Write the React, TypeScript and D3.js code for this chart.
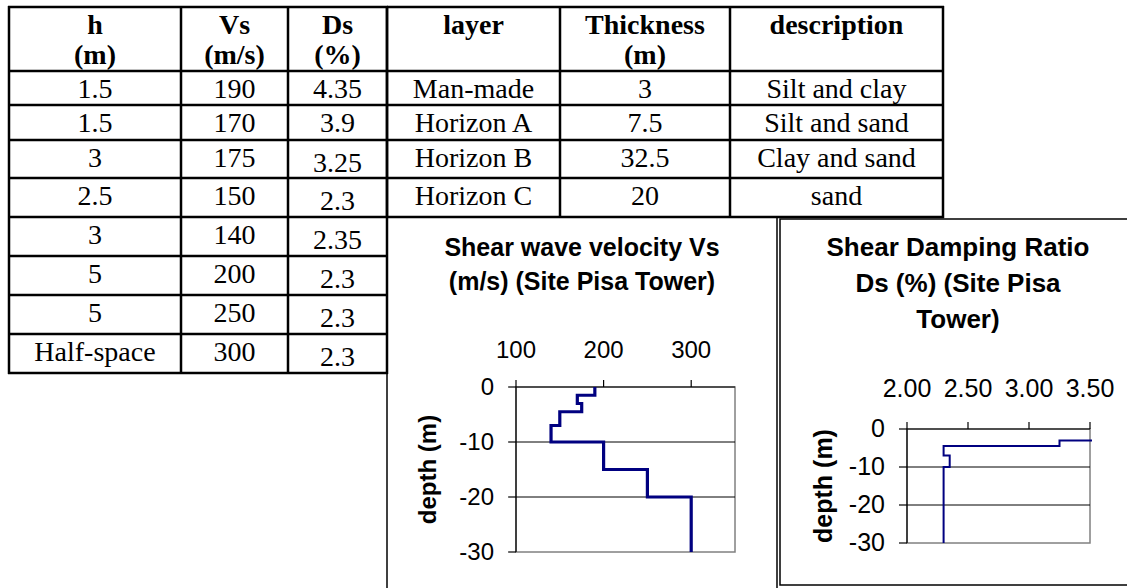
import React from 'react';
import * as d3 from 'd3';

// Soil profile table (left block)
const hLabels = ['1.5', '1.5', '3', '2.5', '3', '5', '5', 'Half-space'];
const vsValues = [190, 170, 175, 150, 140, 200, 250, 300];
const dsValues = [4.35, 3.9, 3.25, 2.3, 2.35, 2.3, 2.3, 2.3];

// Geological layers table (right block)
const layerNames = ['Man-made', 'Horizon A', 'Horizon B', 'Horizon C'];
const layerThickness = ['3', '7.5', '32.5', '20'];
const layerDescriptions = ['Silt and clay', 'Silt and sand', 'Clay and sand', 'sand'];

// Depth (m) of the bottom of each profile layer as plotted
const layerBottoms = [1.5, 3, 4.5, 7, 10, 15, 20, 30];

// Axis ticks
const vsTicks = [100, 200, 300];
const dsTicks = [2.0, 2.5, 3.0, 3.5];
const depthTicks = [0, -10, -20, -30];

const SERIF = '"Liberation Serif", "Times New Roman", serif';
const SANS = '"Liberation Sans", Arial, sans-serif';

// table geometry
const rowEdges = [7, 71, 105, 140, 178, 217, 256, 295, 334, 373];
const leftCols = [9, 181, 288, 387];
const rightCols = [387, 560, 730, 943];
const TABLE_FONT = 28;

function stepPoints(values: number[]): [number, number][] {
  const pts: [number, number][] = [];
  let top = 0;
  values.forEach((v, i) => {
    pts.push([v, -top]);
    pts.push([v, -layerBottoms[i]]);
    top = layerBottoms[i];
  });
  return pts;
}

function Table() {
  const lines: React.ReactNode[] = [];
  const texts: React.ReactNode[] = [];
  const nRows = hLabels.length;
  // left block
  const leftBottom = rowEdges[nRows + 1];
  rowEdges.forEach((y, i) => {
    lines.push(<line key={'lr' + i} x1={leftCols[0] - 1} x2={leftCols[3] + 1} y1={y} y2={y} />);
  });
  leftCols.forEach((x, i) => {
    lines.push(<line key={'lc' + i} x1={x} x2={x} y1={rowEdges[0] - 1} y2={leftBottom + 1} />);
  });
  // right block
  const rightBottom = rowEdges[layerNames.length + 1];
  rowEdges.slice(0, layerNames.length + 2).forEach((y, i) => {
    lines.push(<line key={'rr' + i} x1={rightCols[0]} x2={rightCols[3] + 1} y1={y} y2={y} />);
  });
  rightCols.forEach((x, i) => {
    lines.push(<line key={'rc' + i} x1={x} x2={x} y1={rowEdges[0] - 1} y2={rightBottom + 1} />);
  });

  const headers: [string[], number, number][] = [
    [['h', '(m)'], leftCols[0], leftCols[1]],
    [['Vs', '(m/s)'], leftCols[1], leftCols[2]],
    [['Ds', '(%)'], leftCols[2], leftCols[3]],
    [['layer'], rightCols[0], rightCols[1]],
    [['Thickness', '(m)'], rightCols[1], rightCols[2]],
    [['description'], rightCols[2], rightCols[3]],
  ];
  headers.forEach(([lbl, x0, x1], i) => {
    lbl.forEach((t, j) => {
      texts.push(
        <text key={'h' + i + j} x={(x0 + x1) / 2} y={rowEdges[0] + 27 + j * 30} textAnchor="middle" fontWeight="bold">
          {t}
        </text>
      );
    });
  });

  const cell = (key: string, t: string, x0: number, x1: number, r: number, dy = 0) => (
    <text key={key} x={(x0 + x1) / 2} y={rowEdges[r + 1] + 27 + dy} textAnchor="middle">
      {t}
    </text>
  );
  hLabels.forEach((t, r) => texts.push(cell('a' + r, t, leftCols[0], leftCols[1], r)));
  vsValues.forEach((v, r) => texts.push(cell('b' + r, String(v), leftCols[1], leftCols[2], r)));
  dsValues.forEach((v, r) => texts.push(cell('c' + r, String(v), leftCols[2], leftCols[3], r, r >= 2 ? 5 : 0)));
  layerNames.forEach((t, r) => texts.push(cell('d' + r, t, rightCols[0], rightCols[1], r)));
  layerThickness.forEach((t, r) => texts.push(cell('e' + r, t, rightCols[1], rightCols[2], r)));
  layerDescriptions.forEach((t, r) => texts.push(cell('f' + r, t, rightCols[2], rightCols[3], r)));

  return (
    <g>
      <g stroke="#000" strokeWidth={2.5}>{lines}</g>
      <g fontFamily={SERIF} fontSize={TABLE_FONT} fill="#000">{texts}</g>
    </g>
  );
}

type ProfileProps = {
  id: string;
  title: string[];
  titleCx: number;
  titleY: number;
  titleStep: number;
  titleSize: number;
  labelSize: number;
  values: number[];
  xDomain: [number, number];
  xRange: [number, number];
  yRange: [number, number];
  xTicks: number[];
  xFormat: (v: number) => string;
  xLabelY: number;
  ylabelX: number;
  lineWidth: number;
};

function Profile(p: ProfileProps) {
  const x = d3.scaleLinear().domain(p.xDomain).range(p.xRange);
  const y = d3.scaleLinear().domain([0, -30]).range(p.yRange);
  const [x0, x1] = p.xRange;
  const [y0, y1] = p.yRange;
  const line = d3
    .line<[number, number]>()
    .x((d) => x(d[0]))
    .y((d) => y(d[1]));
  const path = line(stepPoints(p.values)) || '';
  const clipId = 'clip-' + p.id;
  return (
    <g>
      <defs>
        <clipPath id={clipId}>
          <rect x={x0 - 2} y={y0 - 2} width={x1 - x0 + 4} height={y1 - y0 + 4} />
        </clipPath>
      </defs>
      {/* title */}
      <g fontFamily={SANS} fontWeight="bold" fontSize={p.titleSize} textAnchor="middle" fill="#000">
        {p.title.map((t, i) => (
          <text key={i} x={p.titleCx} y={p.titleY + i * p.titleStep}>
            {t}
          </text>
        ))}
      </g>
      {/* plot area */}
      <rect x={x0} y={y0} width={x1 - x0} height={y1 - y0} fill="#fff" stroke="#808080" strokeWidth={1.5} />
      {/* gridlines */}
      {depthTicks
        .filter((d) => d !== 0 && d !== -30)
        .map((d) => (
          <line key={'g' + d} x1={x0} x2={x1} y1={y(d)} y2={y(d)} stroke="#000" strokeWidth={1} />
        ))}
      {/* axes */}
      <line x1={x0} x2={x1} y1={y0} y2={y0} stroke="#000" strokeWidth={1.2} />
      <line x1={x0} x2={x0} y1={y0} y2={y1} stroke="#000" strokeWidth={1.2} />
      {p.xTicks.map((t) => (
        <line key={'xt' + t} x1={x(t)} x2={x(t)} y1={y0} y2={y0 - 7} stroke="#000" strokeWidth={1.2} />
      ))}
      {depthTicks.map((d) => (
        <line key={'yt' + d} x1={x0 - 8} x2={x0} y1={y(d)} y2={y(d)} stroke="#000" strokeWidth={1.2} />
      ))}
      <g fontFamily={SANS} fontSize={p.labelSize} fill="#000">
        {p.xTicks.map((t) => (
          <text key={'xl' + t} x={x(t)} y={p.xLabelY} textAnchor="middle">
            {p.xFormat(t)}
          </text>
        ))}
        {depthTicks.map((d) => (
          <text key={'yl' + d} x={x0 - 22} y={y(d) + 8} textAnchor="end">
            {String(d)}
          </text>
        ))}
      </g>
      <text
        transform={`translate(${p.ylabelX},${(y0 + y1) / 2}) rotate(-90)`}
        textAnchor="middle"
        fontFamily={SANS}
        fontWeight="bold"
        fontSize={p.labelSize}
        fill="#000"
      >
        depth (m)
      </text>
      <path d={path} fill="none" stroke="#000080" strokeWidth={p.lineWidth} clipPath={`url(#${clipId})`} />
    </g>
  );
}

export default function App() {
  return (
    <svg
      width={1127}
      height={588}
      viewBox="0 0 1127 588"
      style={{ position: 'absolute', left: 0, top: 0, background: '#fff' }}
    >
      <rect x={0} y={0} width={1127} height={588} fill="#fff" />
      {/* chart frames */}
      <g stroke="#000" strokeWidth={1.5} fill="none">
        <line x1={387} x2={387} y1={217} y2={590} />
        <line x1={777} x2={777} y1={217} y2={590} />
        <line x1={387} x2={777} y1={217} y2={217} />
        <rect x={780} y={219} width={360} height={366} />
      </g>
      <Table />
      <Profile
        id="vs"
        title={['Shear wave velocity Vs', '(m/s) (Site Pisa Tower)']}
        titleCx={582}
        titleY={256}
        titleStep={34}
        titleSize={25}
        labelSize={24}
        values={vsValues}
        xDomain={[100, 350]}
        xRange={[516, 735]}
        yRange={[387, 552]}
        xTicks={vsTicks}
        xFormat={(v) => String(v)}
        xLabelY={358}
        ylabelX={436}
        lineWidth={3.2}
      />
      <Profile
        id="ds"
        title={['Shear Damping Ratio', 'Ds (%) (Site Pisa', 'Tower)']}
        titleCx={958}
        titleY={256}
        titleStep={36}
        titleSize={26}
        labelSize={25}
        values={dsValues}
        xDomain={[2, 3.5]}
        xRange={[907, 1090]}
        yRange={[429, 543]}
        xTicks={dsTicks}
        xFormat={d3.format('.2f')}
        xLabelY={397}
        ylabelX={832}
        lineWidth={2}
      />
    </svg>
  );
}
